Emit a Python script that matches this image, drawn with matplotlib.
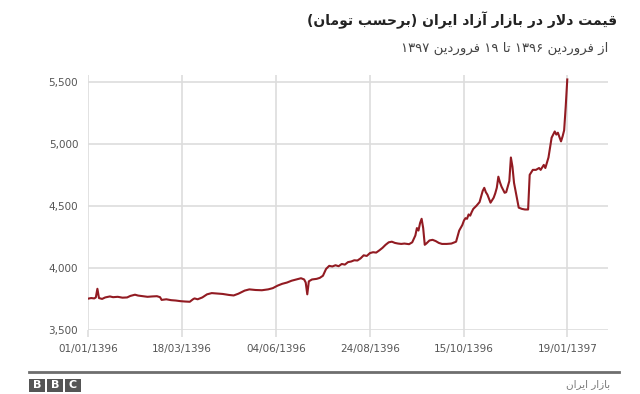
"""
Free-market dollar rate in Iran (toman), 1396-01-01 .. 1397-01-19, BBC Persian style.
"""

import re

import matplotlib.pyplot as plt
from matplotlib.patches import Rectangle

# trading-day index and rate (toman)
day_index = [
    0, 2, 4, 5, 6, 7, 9, 11, 14, 16, 19, 22, 25, 27, 30, 32, 35, 38, 41, 44,
    46, 47, 50, 53, 56, 59, 62, 65, 67, 68, 70, 73, 76, 79, 82, 86, 90, 93, 96, 100,
    103, 107, 111, 115, 118, 121, 124, 127, 130, 133, 136, 138, 139, 140, 141, 143, 146, 148, 150, 152,
    154, 156, 158, 160, 162, 164, 166, 168, 170, 172, 174, 176, 178, 180, 182, 184, 186, 188, 190, 192,
    194, 196, 198, 200, 202, 205, 207, 209, 210, 211, 212, 213, 214, 215, 216, 218, 220, 222, 224, 226,
    229, 232, 235, 237, 239, 240, 241, 242, 243, 244, 245, 246, 248, 250, 252, 253, 254, 255, 257, 259,
    260, 261, 262, 263, 264, 266, 267, 269, 270, 271, 272, 274, 275, 277, 279, 281, 282, 284, 286, 288,
    289, 291, 292, 294, 296, 298, 299, 300, 302, 303, 304, 305, 306,
]
rate = [
    3750, 3755, 3752, 3760, 3830, 3755, 3748, 3760, 3768, 3762, 3765, 3758, 3760, 3772, 3782, 3775, 3770, 3765, 3768, 3770,
    3762, 3740, 3745, 3738, 3735, 3730, 3727, 3725, 3745, 3752, 3745, 3760, 3785, 3795, 3792, 3788, 3780, 3776, 3790, 3815,
    3825, 3820, 3818, 3825, 3835, 3855, 3870, 3880, 3895, 3905, 3915, 3905, 3880, 3785, 3890, 3905, 3910, 3918, 3935, 3990,
    4015, 4010, 4020, 4012, 4030, 4025, 4045, 4050, 4060, 4058, 4075, 4100, 4095, 4118, 4125, 4122, 4140, 4160, 4185, 4205,
    4210, 4200, 4195, 4192, 4195, 4190, 4205, 4260, 4320, 4300, 4360, 4395, 4320, 4185, 4195, 4220, 4225, 4215, 4200, 4192,
    4192, 4195, 4210, 4300, 4345, 4380, 4400, 4395, 4430, 4420, 4450, 4475, 4500, 4530, 4620, 4645, 4610, 4590, 4525, 4565,
    4600, 4645, 4735, 4690, 4655, 4605, 4610, 4700, 4890, 4815, 4685, 4550, 4485, 4475, 4470, 4470, 4750, 4790, 4790, 4805,
    4790, 4830, 4805, 4890, 5050, 5100, 5075, 5090, 5020, 5060, 5110, 5300, 5520,
]

x_ticks = [0, 60, 120, 180, 240, 306]
x_tick_labels = ["01/01/1396", "18/03/1396", "04/06/1396", "24/08/1396", "15/10/1396", "19/01/1397"]
y_ticks = [3500, 4000, 4500, 5000, 5500]

title = "قیمت دلار در بازار آزاد ایران (برحسب تومان)"
subtitle = "از فروردین ۱۳۹۶ تا ۱۹ فروردین ۱۳۹۷"
source = "بازار ایران"

# Arabic presentation forms: isolated, final, initial, medial
FORMS = {
    "ا": ("\uFE8D", "\uFE8E", None, None),
    "آ": ("\uFE81", "\uFE82", None, None),
    "ب": ("\uFE8F", "\uFE90", "\uFE91", "\uFE92"),
    "ت": ("\uFE95", "\uFE96", "\uFE97", "\uFE98"),
    "ح": ("\uFEA1", "\uFEA2", "\uFEA3", "\uFEA4"),
    "د": ("\uFEA9", "\uFEAA", None, None),
    "ر": ("\uFEAD", "\uFEAE", None, None),
    "ز": ("\uFEAF", "\uFEB0", None, None),
    "س": ("\uFEB1", "\uFEB2", "\uFEB3", "\uFEB4"),
    "ف": ("\uFED1", "\uFED2", "\uFED3", "\uFED4"),
    "ق": ("\uFED5", "\uFED6", "\uFED7", "\uFED8"),
    "ل": ("\uFEDD", "\uFEDE", "\uFEDF", "\uFEE0"),
    "م": ("\uFEE1", "\uFEE2", "\uFEE3", "\uFEE4"),
    "ن": ("\uFEE5", "\uFEE6", "\uFEE7", "\uFEE8"),
    "و": ("\uFEED", "\uFEEE", None, None),
    "ی": ("\uFBFC", "\uFBFD", "\uFBFE", "\uFBFF"),
}
LAM_ALEF = {"ا": ("\uFEFB", "\uFEFC"), "آ": ("\uFEF5", "\uFEF6")}


def rtl(text):
    """Join letters and put a Persian string in visual (left-to-right) order."""
    out = []
    prev_joins = False
    i = 0
    while i < len(text):
        ch = text[i]
        nxt = text[i + 1] if i + 1 < len(text) else ""
        if ch == "ل" and nxt in LAM_ALEF:
            iso, fin = LAM_ALEF[nxt]
            out.append(fin if prev_joins else iso)
            prev_joins = False
            i += 2
            continue
        if ch in FORMS:
            iso, fin, ini, med = FORMS[ch]
            join_next = ini is not None and nxt in FORMS
            if prev_joins and join_next:
                out.append(med)
            elif prev_joins:
                out.append(fin)
            elif join_next:
                out.append(ini)
            else:
                out.append(iso)
            prev_joins = join_next
        else:
            out.append(ch)
            prev_joins = False
        i += 1
    shaped = "".join(out)
    runs = re.findall(r"[0-9\u06F0-\u06F9]+|[^0-9\u06F0-\u06F9]+", shaped)
    vis = []
    for r in reversed(runs):
        if r[0].isdigit():
            vis.append(r)
        else:
            vis.append(r[::-1].translate(str.maketrans("()", ")(")))
    return "".join(vis)


W, H = 640, 394
fig = plt.figure(figsize=(W / 100, H / 100), dpi=100)
ax = fig.add_axes([88 / W, (H - 330) / H, (608 - 88) / W, (330 - 75) / H])

ax.plot(day_index, rate, color="#921b22", linewidth=1.5, solid_joinstyle="round")

ax.set_xlim(0, 332)
ax.set_ylim(3497, 5556)
ax.set_xticks(x_ticks)
ax.set_xticklabels(x_tick_labels)
ax.set_yticks(y_ticks)
ax.set_yticklabels([f"{v:,}" for v in y_ticks])
ax.grid(True, color="#dddddd", linewidth=1.2)
ax.set_axisbelow(True)
for s in ax.spines.values():
    s.set_visible(False)
ax.tick_params(axis="x", length=5, width=1.2, color="#dddddd", pad=5,
               labelsize=7.5, labelcolor="#555555")
ax.tick_params(axis="y", length=0, pad=7, labelsize=7.5, labelcolor="#555555")

# titles
fig.text(617 / W, 1 - 20 / H, rtl(title), ha="right", va="center",
         fontsize=10, fontweight="bold", color="#222222")
fig.text(608 / W, 1 - 48 / H, rtl(subtitle), ha="right", va="center",
         fontsize=9.5, color="#444444")

# footer
fig.add_artist(plt.Line2D([29 / W, 619 / W], [1 - 372 / H, 1 - 372 / H],
                          transform=fig.transFigure, color="#6e6e6e", linewidth=2))
for k, letter in enumerate("BBC"):
    x0 = 29 + k * 18
    fig.add_artist(Rectangle((x0 / W, 1 - 392 / H), 16 / W, 13 / H,
                             transform=fig.transFigure, facecolor="#555555",
                             edgecolor="none"))
    fig.text((x0 + 8) / W, 1 - 385.5 / H, letter, ha="center", va="center",
             fontsize=8, fontweight="bold", color="white")
fig.text(610 / W, 1 - 384 / H, rtl(source), ha="right", va="center",
         fontsize=7.5, color="#777777")

fig.savefig("out.png", dpi=100)
